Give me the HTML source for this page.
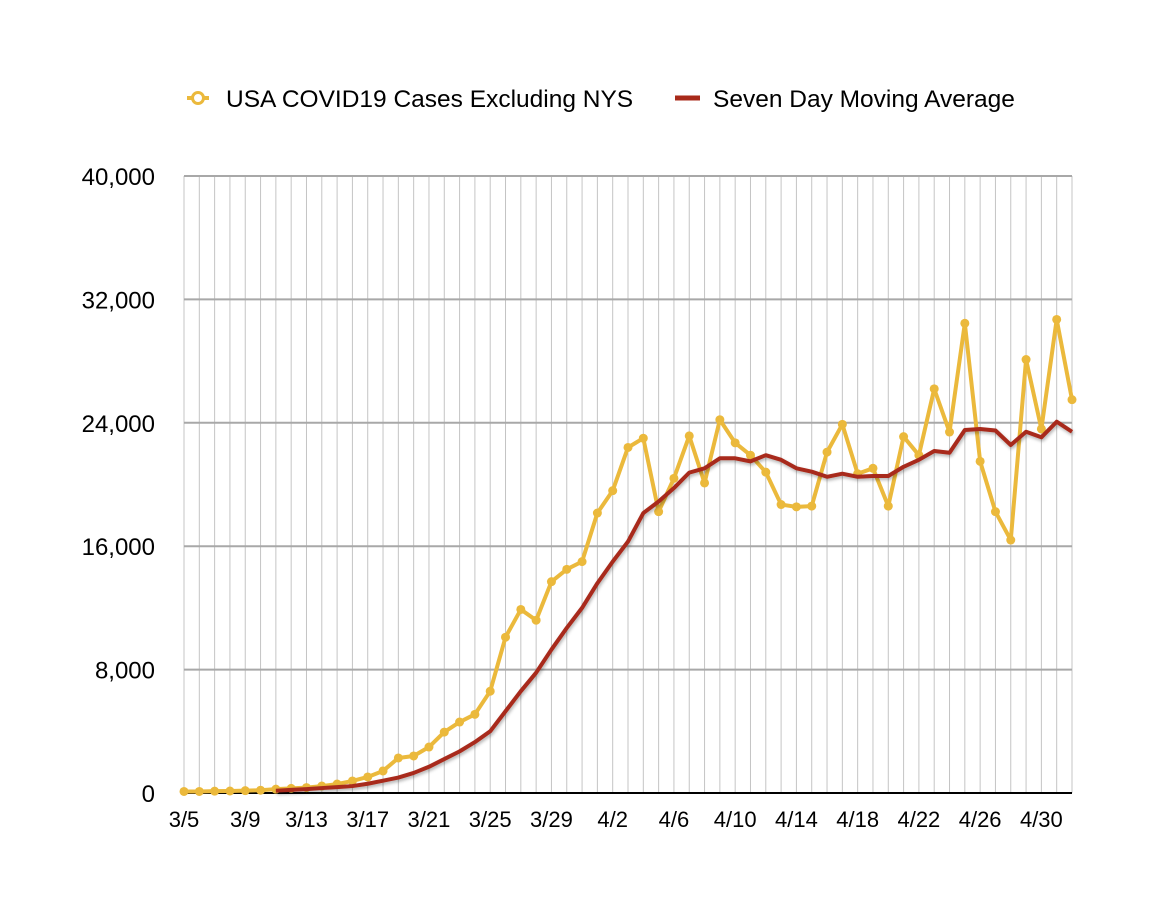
<!DOCTYPE html>
<html><head><meta charset="utf-8"><style>
html,body{margin:0;padding:0;background:#fff;}
svg{display:block;font-family:"Liberation Sans",Arial,sans-serif;}
</style></head><body>
<svg id="chart" width="1170" height="916" viewBox="0 0 1170 916" xmlns="http://www.w3.org/2000/svg">
<defs><filter id="sh" x="-5%" y="-5%" width="110%" height="110%"><feDropShadow dx="1" dy="2" stdDeviation="1.5" flood-color="#000" flood-opacity="0.3"/></filter></defs>
<g>
<g>
<line x1="187" y1="98" x2="209" y2="98" stroke="#ebb93c" stroke-width="4"/>
<circle cx="198" cy="98" r="5.5" fill="#fff" stroke="#ebb93c" stroke-width="3"/>
<text x="226" y="107" font-size="24.5" fill="#000">USA COVID19 Cases Excluding NYS</text>
</g>
<g>
<line x1="675" y1="98" x2="700" y2="98" stroke="#a82a1a" stroke-width="5"/>
<text x="713" y="107" font-size="24.5" fill="#000">Seven Day Moving Average</text>
</g>
</g>
<g id="grid"></g>
<g id="axes"></g>
<g id="series"></g>
</svg>
<script>
const categories = ["3/5","3/6","3/7","3/8","3/9","3/10","3/11","3/12","3/13","3/14","3/15","3/16","3/17","3/18","3/19","3/20","3/21","3/22","3/23","3/24","3/25","3/26","3/27","3/28","3/29","3/30","3/31","4/1","4/2","4/3","4/4","4/5","4/6","4/7","4/8","4/9","4/10","4/11","4/12","4/13","4/14","4/15","4/16","4/17","4/18","4/19","4/20","4/21","4/22","4/23","4/24","4/25","4/26","4/27","4/28","4/29","4/30","5/1","5/2"];
const cases = [100,100,120,130,150,180,250,300,350,450,580,780,1040,1430,2270,2400,2980,3950,4600,5100,6600,10100,11900,11200,13700,14500,15000,18150,19600,22400,23000,18240,20400,23150,20100,24200,22700,21900,20800,18700,18550,18600,22100,23900,20700,21050,18600,23100,21900,26200,23400,30450,21500,18240,16400,28100,23600,30700,25500];
const movingAvg = [null,null,null,null,null,null,150,200,250,320,380,450,600,800,1000,1300,1700,2200,2700,3300,4000,5300,6600,7800,9300,10700,12000,13600,15000,16300,18150,18900,19770,20770,21050,21700,21700,21500,21900,21600,21050,20830,20500,20700,20500,20550,20550,21150,21600,22170,22060,23530,23600,23500,22560,23420,23060,24070,23420];
const yTicks = [0,8000,16000,24000,32000,40000];
const yTickLabels = ["0","8,000","16,000","24,000","32,000","40,000"];
const xLabelEvery = 4;

const NS="http://www.w3.org/2000/svg";
const L=184,R=1072,T=176,B=793,YMAX=40000;
const xs=i=>L+i*(R-L)/(categories.length-1);
const ys=v=>B-v/YMAX*(B-T);
function mk(tag,attrs,parent){const e=document.createElementNS(NS,tag);for(const k in attrs)e.setAttribute(k,attrs[k]);parent.appendChild(e);return e;}
const grid=document.getElementById('grid'),axes=document.getElementById('axes'),series=document.getElementById('series');
categories.forEach((c,i)=>{
  const ln=mk('line',{x1:xs(i),x2:xs(i),y1:T,y2:B,stroke:'#c4c4c4','stroke-width':1},grid);
  
  
  if(i%xLabelEvery===0){
    const t=mk('text',{x:xs(i),y:827,'font-size':22,'text-anchor':'middle',fill:'#000'},axes);
    t.textContent=c;
    
    
  }
});
yTicks.forEach((v,i)=>{
  if(v>0){
    const g=mk('line',{x1:L,x2:R,y1:ys(v),y2:ys(v),stroke:'#a8a8a8','stroke-width':2},grid);
    
    
  }
  const t=mk('text',{x:155,y:ys(v)+9,'font-size':24,'text-anchor':'end',fill:'#000'},axes);
  t.textContent=yTickLabels[i];
  
  
});
const ax=mk('line',{x1:L,x2:R,y1:B,y2:B,stroke:'#000','stroke-width':2},axes);



const cp=cases.map((v,i)=>xs(i)+','+ys(v)).join(' ');
const cl=mk('polyline',{points:cp,fill:'none',stroke:'#ebb93c','stroke-width':4,'stroke-linejoin':'round'},series);


cases.forEach((v,i)=>{
  const p=mk('circle',{cx:xs(i),cy:ys(v),r:4.5,fill:'#ebb93c'},series);
  
  
});
const mp=movingAvg.map((v,i)=>v==null?null:xs(i)+','+ys(v)).filter(Boolean).join(' ');
const ml=mk('polyline',{points:mp,fill:'none',stroke:'#a82a1a','stroke-width':4,'stroke-linejoin':'round',filter:'url(#sh)'},series);


</script>
</body></html>
